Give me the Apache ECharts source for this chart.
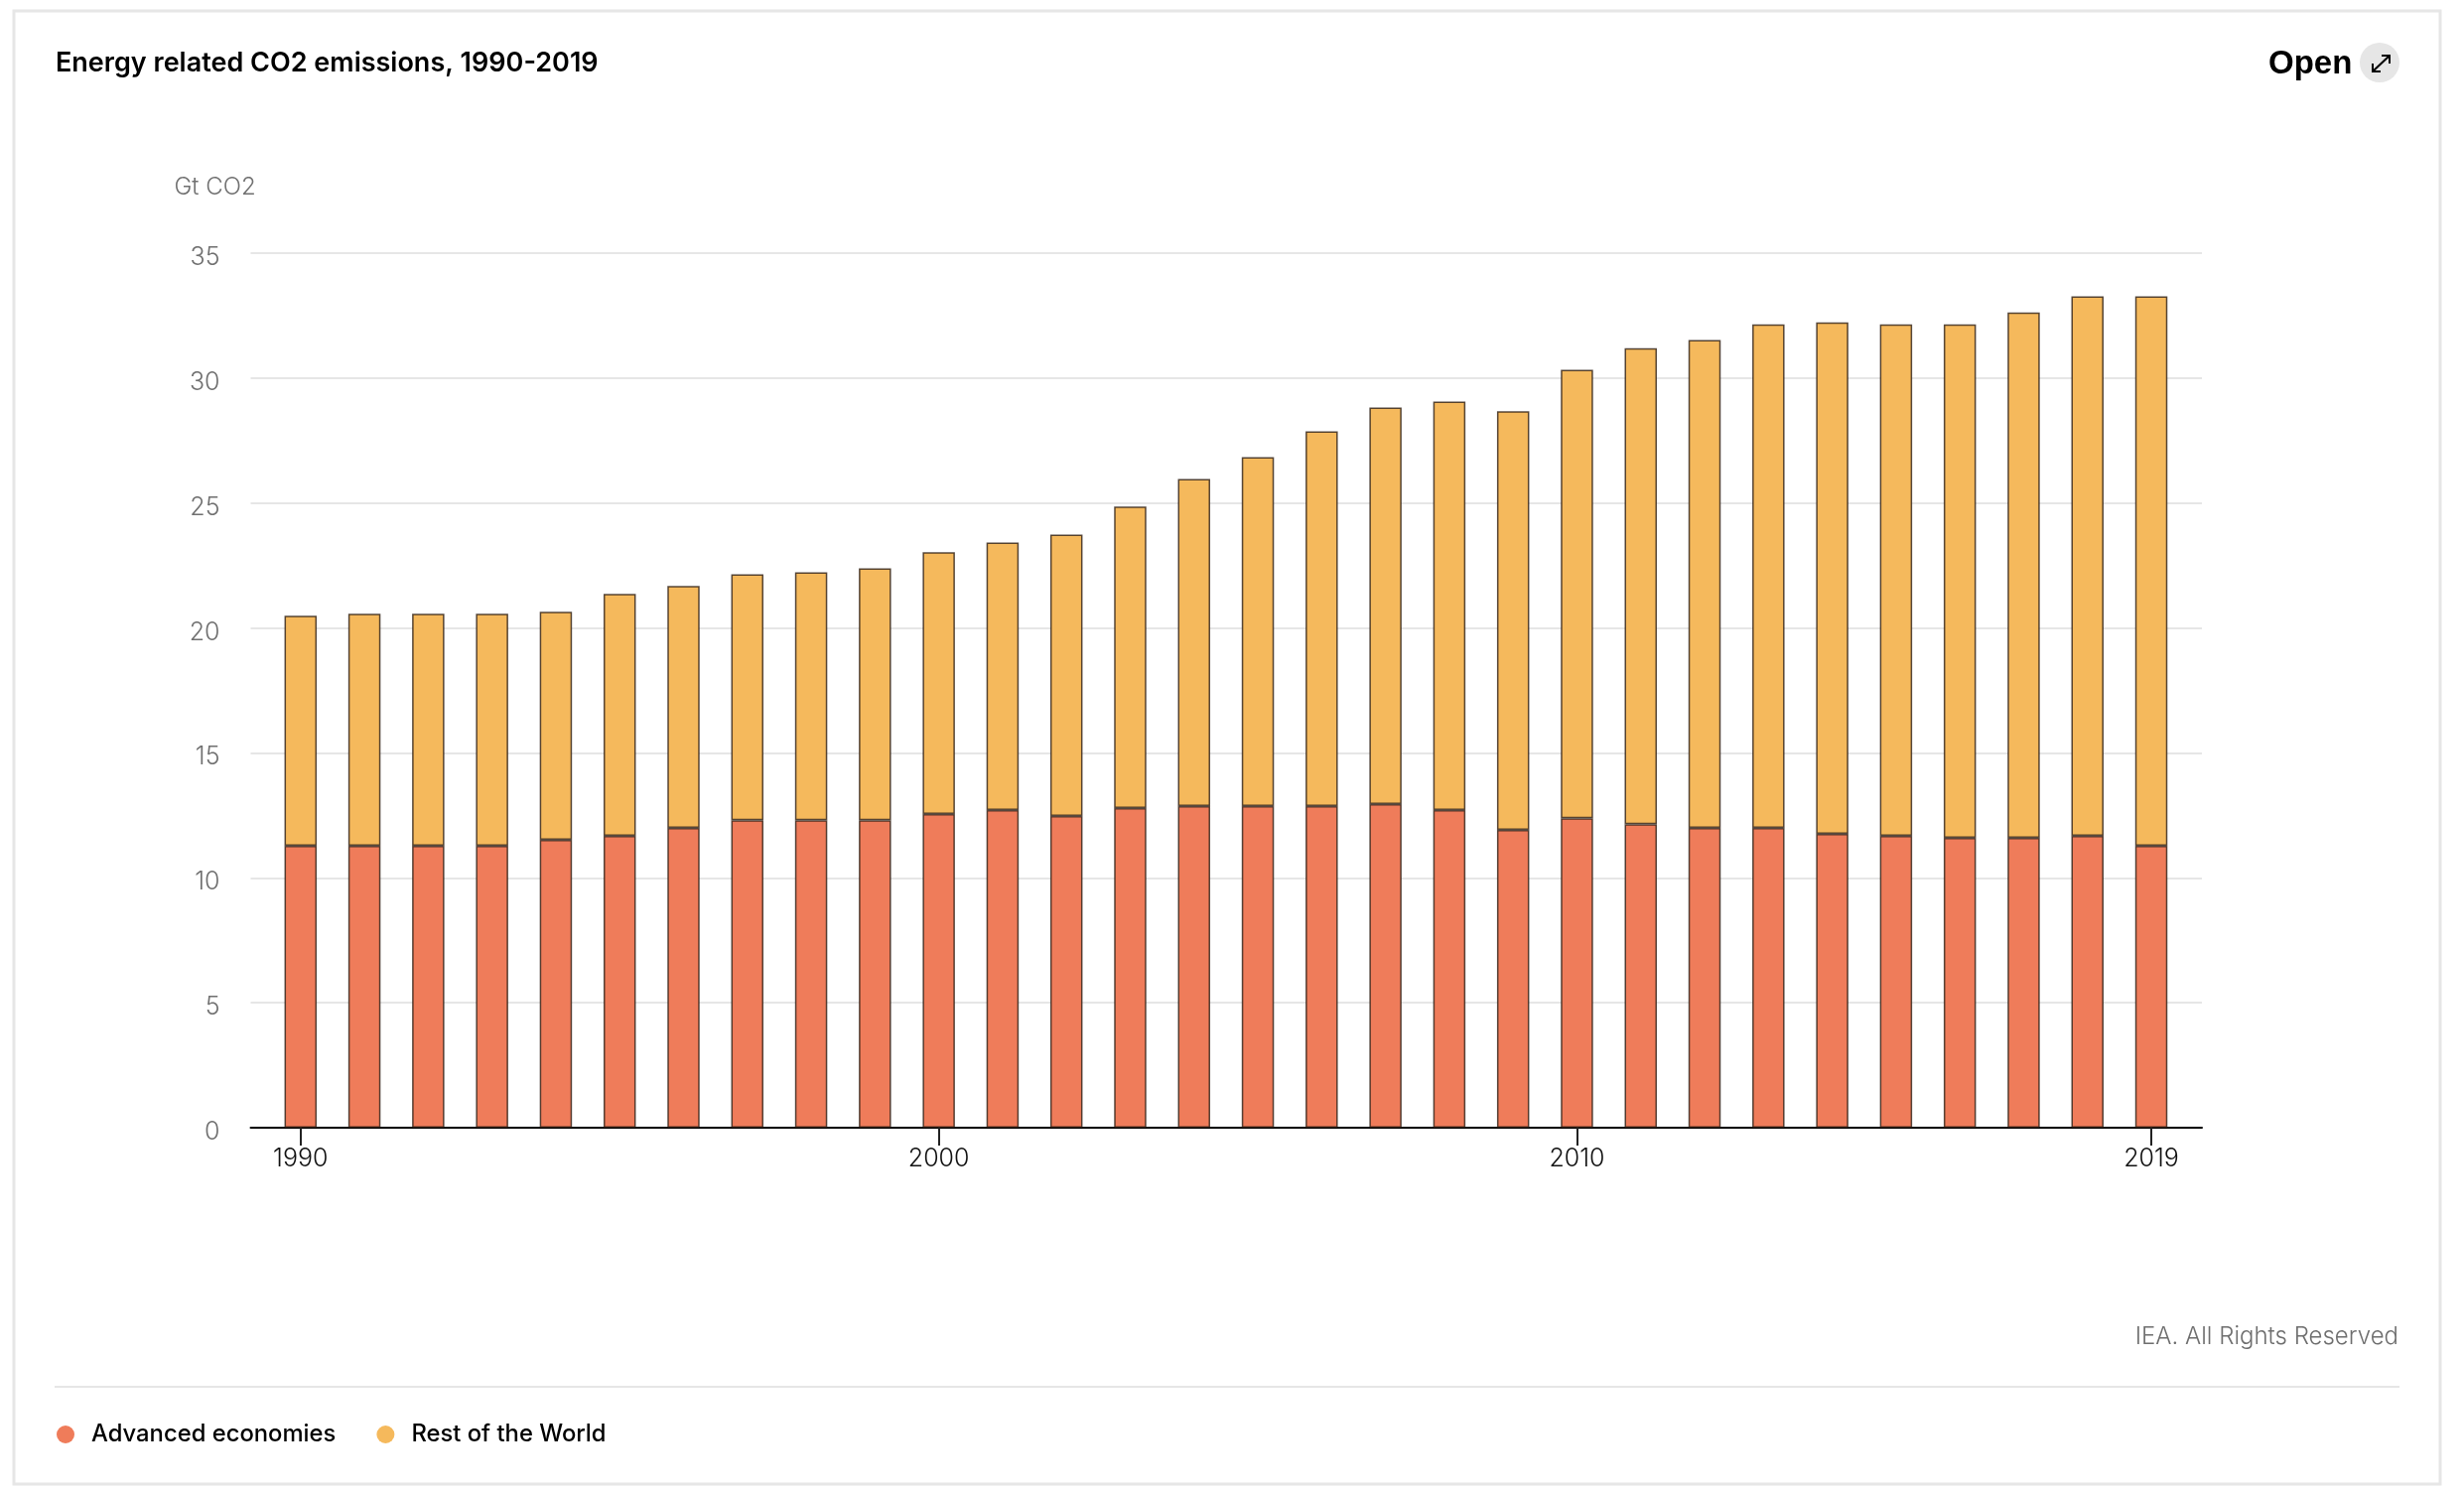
<!DOCTYPE html>
<html>
<head>
<meta charset="utf-8">
<title>Energy related CO2 emissions, 1990-2019</title>
<script src="https://cdn.jsdelivr.net/npm/echarts@6/dist/echarts.min.js"></script>
<style>
  html, body { margin: 0; padding: 0; background: #fff; }
  #chart { width: 2482px; height: 1506px; }
</style>
</head>
<body>
<div id="chart"></div>
<script>
const years = [1990, 1991, 1992, 1993, 1994, 1995, 1996, 1997, 1998, 1999,
  2000, 2001, 2002, 2003, 2004, 2005, 2006, 2007, 2008, 2009,
  2010, 2011, 2012, 2013, 2014, 2015, 2016, 2017, 2018, 2019];
const advanced = [11.28, 11.28, 11.28, 11.28, 11.52, 11.68, 12.0, 12.31, 12.31, 12.31,
  12.55, 12.71, 12.47, 12.79, 12.87, 12.87, 12.87, 12.95, 12.71, 11.92,
  12.39, 12.15, 12.0, 12.0, 11.76, 11.68, 11.6, 11.6, 11.68, 11.28];
const restOfWorld = [9.21, 9.29, 9.29, 9.29, 9.13, 9.68, 9.68, 9.84, 9.92, 10.08,
  10.48, 10.71, 11.27, 12.07, 13.09, 13.97, 15.0, 15.87, 16.35, 16.75,
  17.94, 19.05, 19.52, 20.15, 20.47, 20.47, 20.55, 21.03, 21.59, 21.99];
const yearTicks = [1990, 2000, 2010, 2019];

const FONT = 'Inter';
const GRID_COLOR = '#e6e6e6';
const BAR_BORDER = 'rgba(45, 30, 20, 0.8)';

// value first: echarts stacks over the first numeric dimension
const barSeries = (name, values, color) => ({
  name: name,
  type: 'bar',
  stack: 'total',
  barWidth: 32.5,
  encode: { x: 1, y: 0 },
  data: values.map((v, i) => [v, years[i]]),
  itemStyle: { color: color, borderColor: BAR_BORDER, borderWidth: 1.5 }
});

const options = {
  animation: false,
  backgroundColor: '#fff',
  title: {
    text: 'Energy related CO2 emissions, 1990-2019',
    left: 56,
    top: 50,
    padding: 0,
    textStyle: { fontFamily: FONT, fontSize: 27, fontWeight: 600, color: '#000' }
  },
  legend: {
    left: 57,
    top: 1433,
    padding: 0,
    icon: 'circle',
    itemWidth: 18,
    itemHeight: 18,
    itemGap: 41,
    itemStyle: { borderWidth: 0 },
    textStyle: { fontFamily: FONT, fontSize: 23.8, fontWeight: 500, color: '#000', padding: [0, 0, 0, 12] },
    data: ['Advanced economies', 'Rest of the World']
  },
  grid: { left: 252.5, right: 264, top: 255, bottom: 370 },
  xAxis: {
    type: 'value',
    min: 1989.2175,
    max: 2019.793,
    splitLine: { show: false },
    axisLine: { show: true, onZero: false, lineStyle: { color: '#000', width: 2 } },
    axisTick: { show: true, customValues: yearTicks, length: 18, lineStyle: { color: '#222', width: 2 } },
    axisLabel: {
      customValues: yearTicks,
      formatter: (v) => String(v),
      margin: 19,
      fontFamily: FONT,
      fontSize: 25,
      fontWeight: 300,
      color: '#111'
    }
  },
  yAxis: {
    type: 'value',
    min: 0,
    max: 35,
    interval: 5,
    name: 'Gt CO2',
    nameLocation: 'end',
    nameGap: 54,
    nameTextStyle: { fontFamily: FONT, fontSize: 24, fontWeight: 300, color: '#707070', align: 'left', padding: [0, 0, 0, -77] },
    axisLine: { show: false },
    axisTick: { show: false },
    splitLine: { lineStyle: { color: GRID_COLOR, width: 2 } },
    axisLabel: {
      margin: 31,
      fontFamily: FONT,
      fontSize: 25,
      fontWeight: 300,
      color: '#707070',
      verticalAlign: 'top',
      lineHeight: 9
    }
  },
  series: [
    barSeries('Advanced economies', advanced, '#EF7C5A'),
    barSeries('Rest of the World', restOfWorld, '#F5B95C')
  ],
  graphic: [
    { type: 'rect', shape: { x: 14, y: 11, width: 2444, height: 1484 }, style: { fill: 'none', stroke: GRID_COLOR, lineWidth: 3 }, silent: true, z: -10 },
    { type: 'line', shape: { x1: 55, y1: 1397, x2: 2417, y2: 1397 }, style: { stroke: GRID_COLOR, lineWidth: 2 }, silent: true },
    { type: 'text', x: 2416, y: 1347, style: { text: 'IEA. All Rights Reserved', fontFamily: FONT, fontSize: 24, fontWeight: 300, fill: '#6e6e6e', textAlign: 'right', textVerticalAlign: 'middle' } },
    { type: 'text', x: 2285, y: 65, style: { text: 'Open', fontFamily: 'Liberation Sans', fontSize: 33, fontWeight: 'bold', fill: '#000', textAlign: 'left', textVerticalAlign: 'middle' } },
    { type: 'circle', shape: { cx: 2397, cy: 63, r: 20 }, style: { fill: '#e6e6e6' }, silent: true },
    { type: 'polyline', shape: { points: [[2390, 72], [2407, 56]] }, style: { stroke: '#000', lineWidth: 2, fill: 'none' }, silent: true },
    { type: 'polyline', shape: { points: [[2399, 56], [2407, 56], [2407, 64]] }, style: { stroke: '#000', lineWidth: 2, fill: 'none' }, silent: true },
    { type: 'polyline', shape: { points: [[2390, 64], [2390, 72], [2398, 72]] }, style: { stroke: '#000', lineWidth: 2, fill: 'none' }, silent: true }
  ]
};

window.addEventListener('load', () => {
  const chart = echarts.init(document.getElementById('chart'));
  chart.setOption(options);
});
</script>
</body>
</html>
